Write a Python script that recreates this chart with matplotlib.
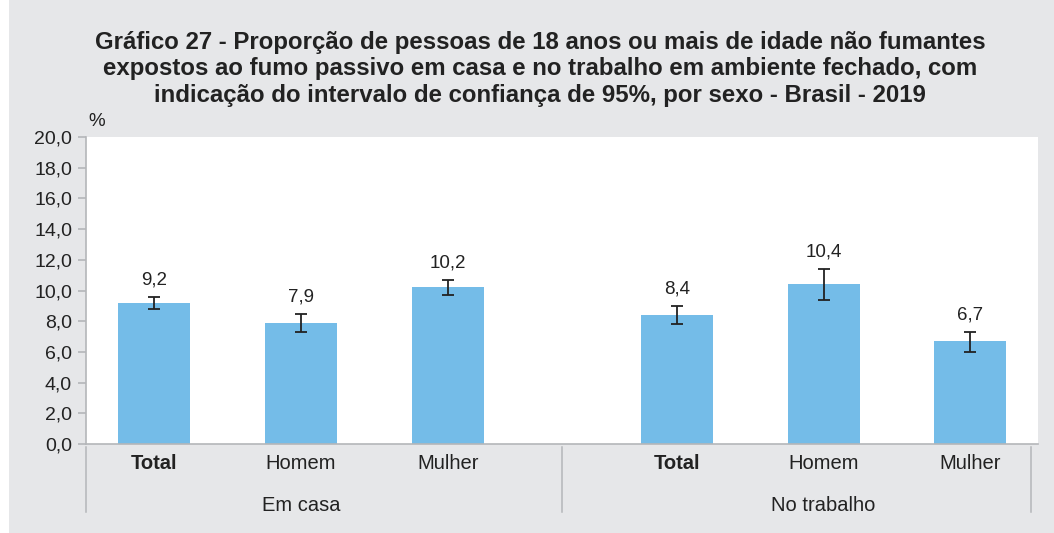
import numpy as np
import matplotlib
matplotlib.use("Agg")
import matplotlib.pyplot as plt
from matplotlib.patches import Rectangle

plt.rcParams["font.family"] = ["Liberation Sans", "DejaVu Sans"]

# data
groups = ["Em casa", "No trabalho"]
categories = ["Total", "Homem", "Mulher", "Total", "Homem", "Mulher"]
values = [9.2, 7.9, 10.2, 8.4, 10.4, 6.7]
ci_low = [8.8, 7.3, 9.7, 7.8, 9.4, 6.0]
ci_high = [9.6, 8.5, 10.7, 9.0, 11.4, 7.3]
yticks = [0, 2, 4, 6, 8, 10, 12, 14, 16, 18, 20]

title = ("Gráfico 27 - Proporção de pessoas de 18 anos ou mais de idade não fumantes\n"
         "expostos ao fumo passivo em casa e no trabalho em ambiente fechado, com\n"
         "indicação do intervalo de confiança de 95%, por sexo - Brasil - 2019")

bar_color = "#74bce8"
bg = "#e6e7e9"
line_gray = "#b4b6b9"

x = np.array([0, 1, 2, 3.56, 4.56, 5.56])
vals = np.array(values)
yerr = np.array([vals - np.array(ci_low), np.array(ci_high) - vals])

fig = plt.figure(figsize=(10.54, 5.33), dpi=100, facecolor="white")
fig.patches.append(Rectangle((9 / 1054, 0), 1, 1, transform=fig.transFigure,
                             facecolor=bg, edgecolor="none", zorder=-10))

ax = fig.add_axes([86 / 1054, 1 - 444 / 533, (1038 - 86) / 1054, (444 - 137) / 533])
ax.set_facecolor("white")
ax.bar(x, vals, width=0.49, color=bar_color, zorder=2)
ax.errorbar(x, vals, yerr=yerr, fmt="none", ecolor="#222222", elinewidth=1.3,
            capsize=4, capthick=1.3, zorder=3)

for xi, v, hi in zip(x, values, ci_high):
    ax.text(xi, hi + 0.55, f"{v:.1f}".replace(".", ","), ha="center", va="bottom",
            fontsize=13.5, color="#222222")

ax.set_xlim(-0.463, 6.02)
ax.set_ylim(0, 20)
ax.set_yticks(yticks)
ax.set_yticklabels([f"{t:.1f}".replace(".", ",") for t in yticks], fontsize=14, color="#222222")
ax.set_xticks([])
for s in ["top", "right"]:
    ax.spines[s].set_visible(False)
ax.spines["left"].set_color(line_gray)
ax.spines["bottom"].set_color(line_gray)
ax.spines["left"].set_linewidth(1.2)
ax.spines["bottom"].set_linewidth(1.2)
ax.tick_params(axis="y", color=line_gray, length=6, width=1.2, pad=4)

# category and group labels under the axis
tr = ax.get_xaxis_transform()
for xi, c in zip(x, categories):
    ax.text(xi, -0.062, c, transform=tr, ha="center", va="center", fontsize=14.5,
            color="#222222", fontweight="bold" if c == "Total" else "normal")
ax.text(1, -0.199, groups[0], transform=tr, ha="center", va="center", fontsize=14.5, color="#222222")
ax.text(4.56, -0.199, groups[1], transform=tr, ha="center", va="center", fontsize=14.5, color="#222222")
for xs in [-0.463, 2.78, 5.97]:
    ax.plot([xs, xs], [-0.01, -0.221], transform=tr, color=line_gray, lw=1.1, clip_on=False)

fig.text(97 / 1054, 1 - 121 / 533, "%", ha="center", va="center", fontsize=13.5, color="#222222")
fig.text(540 / 1054, 1 - 69 / 533, title, ha="center", va="center", fontsize=17.3,
         fontweight="bold", color="#222222", linespacing=1.22)

fig.savefig("out.png", dpi=100, facecolor=fig.get_facecolor())
